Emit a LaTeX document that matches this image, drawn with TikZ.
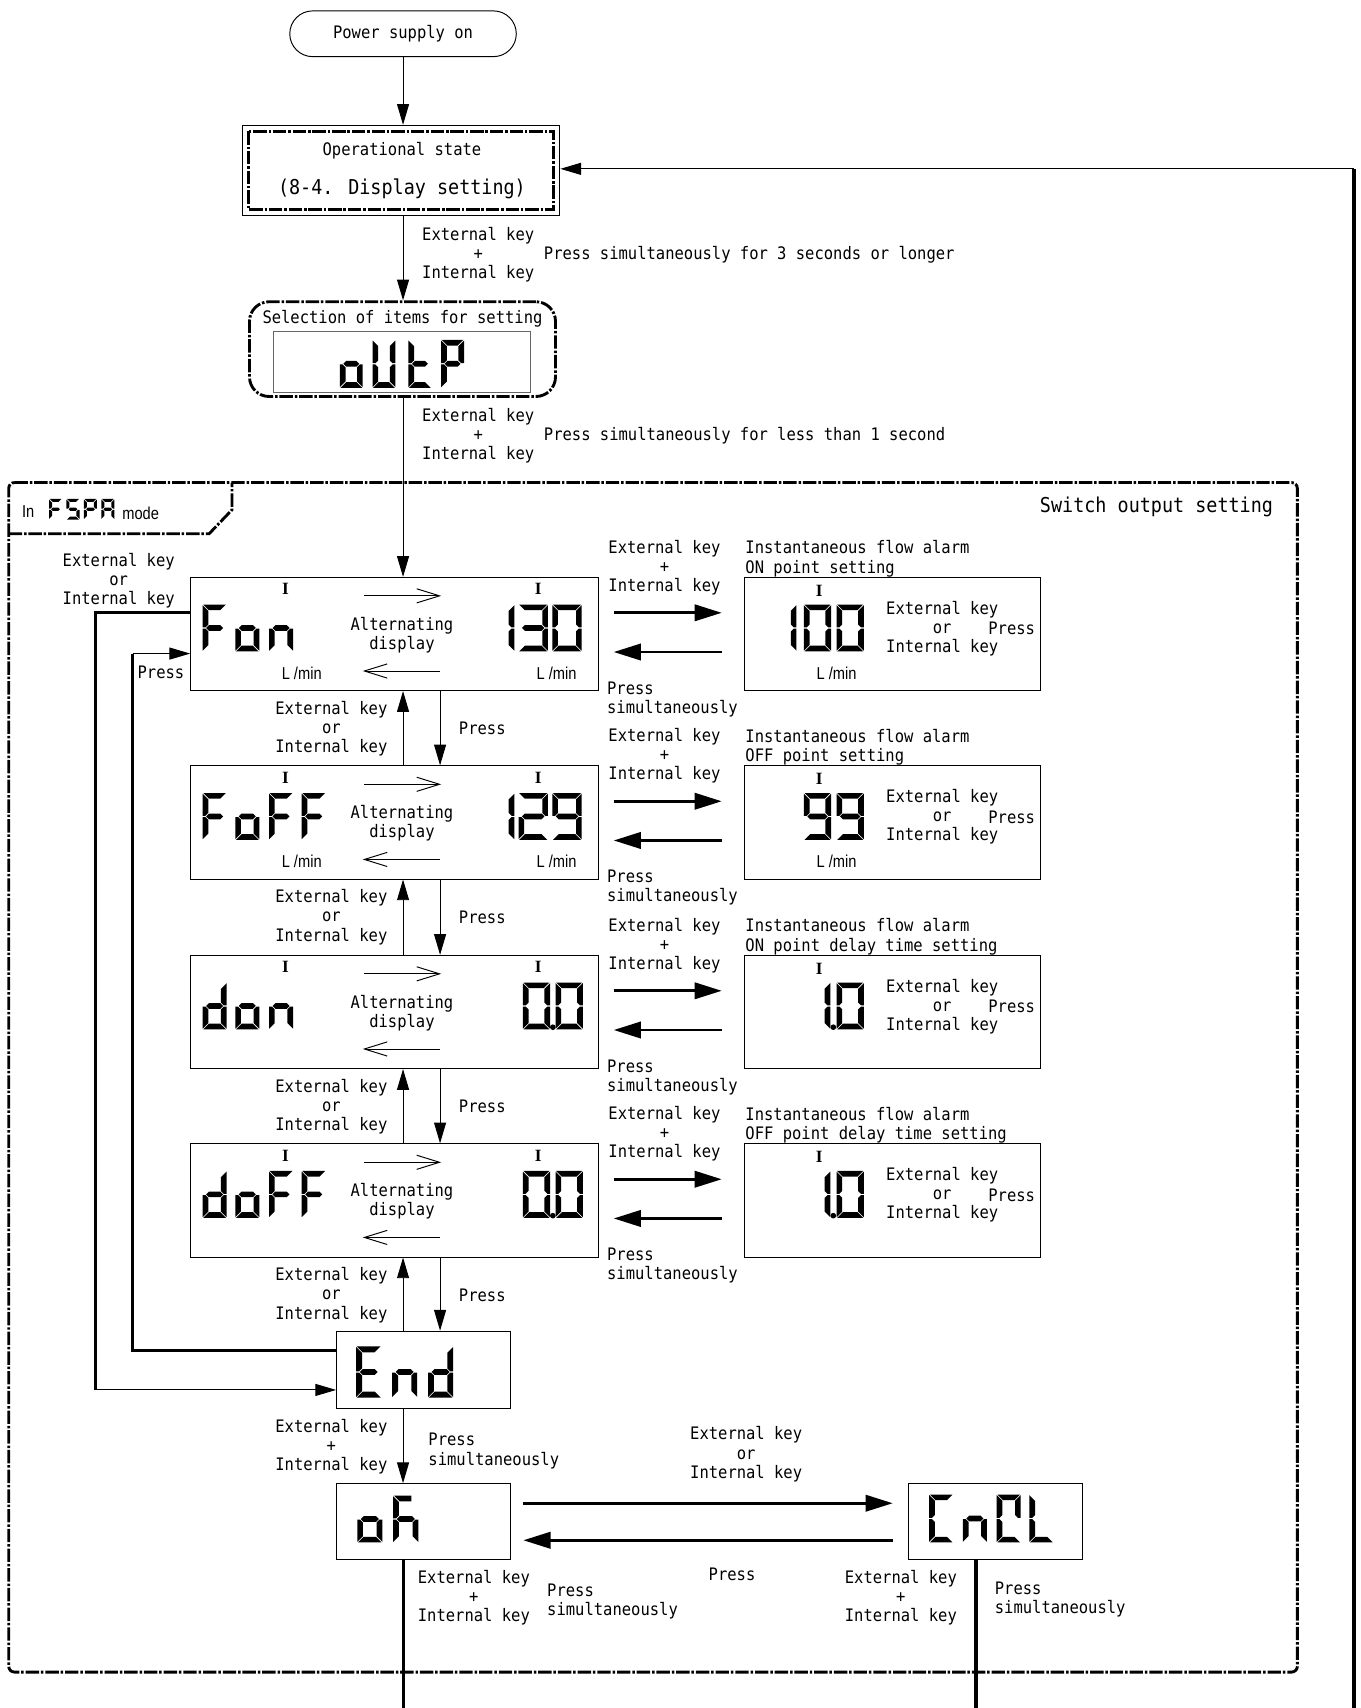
\documentclass[tikz,border=0pt]{standalone}
\usepackage{fontspec}
\setmainfont[FakeStretch=0.9]{DejaVu Sans Mono}
\newfontfamily\nsans[FakeStretch=0.85]{Liberation Sans}
\newfontfamily\tser{Liberation Serif}
\usetikzlibrary{arrows.meta,calc}

\def\sga{\fill (\sgX+\sgG,\sgY) -- (\sgX+\sgW-\sgG,\sgY) -- (\sgX+\sgW-\sgT-\sgG,\sgY+\sgT) -- (\sgX+\sgT+\sgG,\sgY+\sgT) -- cycle;}
\def\sgk{\fill (\sgX+\sgG,\sgY) -- (\sgX+\sgW*0.72,\sgY) -- (\sgX+\sgW*0.72,\sgY+\sgT) -- (\sgX+\sgT+\sgG,\sgY+\sgT) -- cycle;}
\def\sgd{\fill (\sgX+\sgG,\sgY+\sgH) -- (\sgX+\sgW-\sgG,\sgY+\sgH) -- (\sgX+\sgW-\sgT-\sgG,\sgY+\sgH-\sgT) -- (\sgX+\sgT+\sgG,\sgY+\sgH-\sgT) -- cycle;}
\def\sgg{\fill (\sgX+\sgT/2+\sgG,\sgY+\sgH/2) -- (\sgX+\sgT+\sgG,\sgY+\sgH/2-\sgT/2) -- (\sgX+\sgW-\sgT-\sgG,\sgY+\sgH/2-\sgT/2) -- (\sgX+\sgW-\sgT/2-\sgG,\sgY+\sgH/2) -- (\sgX+\sgW-\sgT-\sgG,\sgY+\sgH/2+\sgT/2) -- (\sgX+\sgT+\sgG,\sgY+\sgH/2+\sgT/2) -- cycle;}
\def\sgf{\fill (\sgX,\sgY+\sgG) -- (\sgX+\sgT,\sgY+\sgT+\sgG) -- (\sgX+\sgT,\sgY+\sgH/2-\sgT/2-\sgG) -- (\sgX+\sgT/2,\sgY+\sgH/2-\sgG) -- (\sgX,\sgY+\sgH/2-\sgG) -- cycle;}
\def\sge{\fill (\sgX,\sgY+\sgH-\sgG) -- (\sgX+\sgT,\sgY+\sgH-\sgT-\sgG) -- (\sgX+\sgT,\sgY+\sgH/2+\sgT/2+\sgG) -- (\sgX+\sgT/2,\sgY+\sgH/2+\sgG) -- (\sgX,\sgY+\sgH/2+\sgG) -- cycle;}
\def\sgb{\fill (\sgX+\sgW,\sgY+\sgG) -- (\sgX+\sgW-\sgT,\sgY+\sgT+\sgG) -- (\sgX+\sgW-\sgT,\sgY+\sgH/2-\sgT/2-\sgG) -- (\sgX+\sgW-\sgT/2,\sgY+\sgH/2-\sgG) -- (\sgX+\sgW,\sgY+\sgH/2-\sgG) -- cycle;}
\def\sgc{\fill (\sgX+\sgW,\sgY+\sgH-\sgG) -- (\sgX+\sgW-\sgT,\sgY+\sgH-\sgT-\sgG) -- (\sgX+\sgW-\sgT,\sgY+\sgH/2+\sgT/2+\sgG) -- (\sgX+\sgW-\sgT/2,\sgY+\sgH/2+\sgG) -- (\sgX+\sgW,\sgY+\sgH/2+\sgG) -- cycle;}
\newcommand\dig[6]{\begingroup\def\sgX{#1}\def\sgY{#2}\def\sgW{#3}\def\sgH{#4}\def\sgT{#5}\def\sgG{0.6}\foreach \s in #6{\csname sg\s\endcsname}\endgroup}
\def\svo{c,d,e,g}
\def\svU{b,c,d,e,f}
\def\svt{d,e,f,g}
\def\svP{a,b,e,f,g}
\def\svF{a,e,f,g}
\def\svS{a,c,d,f,g}
\def\svA{a,b,c,e,f,g}
\def\svn{c,e,g}
\def\svzero{a,b,c,d,e,f}
\def\svone{b,c}
\def\svthree{a,b,c,d,g}
\def\svtwo{a,b,d,e,g}
\def\svnine{a,b,c,d,f,g}
\def\svd{b,c,d,e,g}
\def\svE{a,d,e,f,g}
\def\svK{k,c,e,f,g}
\def\svC{a,d,e,f}
\def\svCC{a,b,d,e,f}
\def\svL{d,e,f}

\tikzset{
 lbl/.style={inner sep=0pt, align=center, font=\fontsize{9}{10}\selectfont},
 big/.style={inner sep=0pt, font=\fontsize{10.7}{12}\selectfont},
 unit/.style={inner sep=0pt, font=\nsans\fontsize{9}{9}\selectfont},
 mk/.style={inner sep=0pt, font=\tser\bfseries\fontsize{9}{9}\selectfont},
 box/.style={draw, line width=0.5pt, inner sep=0pt},
 arr/.style={line width=0.5pt, -{Triangle[length=0.38cm,width=0.22cm]}},
 tarr/.style={line width=1.5pt, -{Triangle[length=0.5cm,width=0.3cm]}},
 thk/.style={line width=1.6pt},
 oarr/.style={line width=0.5pt, -{Straight Barb[length=0.42cm,width=0.26cm]}},
 ddash/.style={line width=1.5pt, dash pattern=on 7pt off 1pt on 1.3pt off 1pt},
}

\newcommand\rowbox[3]{%
\node[box, minimum width=7.48cm, minimum height=2.08cm] (r#1) at (362,#2+52) {};
\node[box, minimum width=5.44cm, minimum height=2.08cm] (q#1) at (819,#2+52) {};
\node[mk] (ra#1) at (262,#2+11) {I};
\node[mk] (rb#1) at (494,#2+11) {I};
\node[mk] (qa#1) at (752,#2+12) {I};
\draw[oarr] (334,#2+17) -- (405,#2+17);
\draw[oarr] (404,#2+86) -- (333,#2+86);
\node[lbl] (al#1) at (369,#2+53) {Alternating\\display};
\node[lbl] (ka#1) at (610,#2-9) {External key\\+\\Internal key};
\node[lbl, align=left, anchor=west] (ti#1) at (684,#2-17) {Instantaneous flow alarm\\#3};
\node[lbl, align=left, anchor=west] (ps#1) at (557,#2+112) {Press\\simultaneously};
\node[lbl] (qe#1) at (865,#2+47) {External key\\or\\Internal key};
\node[lbl, anchor=west] (qp#1) at (907,#2+47) {Press};
\draw[tarr] ($(r#1.north east)+(14,33)$) -- ($(q#1.north west)+(-20,33)$);
\draw[tarr] ($(q#1.north west)+(-20,69)$) -- ($(r#1.north east)+(14,69)$);
}

\begin{document}
\begin{tikzpicture}[x=0.02cm,y=-0.02cm]
\useasboundingbox (0,0) rectangle (1249,1568);
\coordinate (sp) at (370,0);
\coordinate (dp) at (404,0);
\coordinate (cx) at (896,0);
\coordinate (bot) at (0,1568);

% top
\node[box, lbl, rounded corners=0.42cm, minimum width=4.16cm, minimum height=0.84cm] (pso) at (370,31) {Power supply on};
\node[box, minimum width=5.82cm, minimum height=1.66cm] (op) at (368.5,156.5) {};
\draw[ddash] (228.5,120.5) rectangle (508.5,192.5);
\node[lbl] (op1) at (369,138) {Operational state};
\node[big] (op2) at (369,173) {(8-4. Display setting)};
\draw[arr] (pso.south) -- (pso.south |- op.north);

\node[lbl] (k1) at (439,234) {External key\\+\\Internal key};
\node[lbl, anchor=west] (p1) at (499,234) {Press simultaneously for 3 seconds or longer};

\node[box, ddash, rounded corners=0.36cm, minimum width=5.62cm, minimum height=1.74cm] (sel) at (369.5,320.5) {};
\draw[arr] (op.south -| sp) -- (sel.north -| sp);
\node[lbl] (selt) at (369.5,293) {Selection of items for setting};
\node[box, draw=black!60, minimum width=4.72cm, minimum height=1.12cm] (seld) at (369,332) {};
\dig{312}{312}{21}{44}{5.2}{\svo}
\dig{342}{312}{21}{44}{5.2}{\svU}
\dig{375}{312}{21}{44}{5.2}{\svt}
\dig{405}{312}{21}{44}{5.2}{\svP}

\node[lbl] (k2) at (439,400) {External key\\+\\Internal key};
\node[lbl, anchor=west] (p2) at (499,400) {Press simultaneously for less than 1 second};

% frame
\draw[ddash, rounded corners=3pt] (8,443) -- (1191,443) -- (1191,1535) -- (8,1535) -- cycle;
\draw[ddash] (8,490) -- (192,490) -- (213,468) -- (213,443);
\node[unit, anchor=west] (in) at (20,470) {In};
\dig{45}{458}{12}{19}{2.8}{\svF}
\dig{61}{458}{12}{19}{2.8}{\svS}
\dig{77}{458}{12}{19}{2.8}{\svP}
\dig{93}{458}{12}{19}{2.8}{\svA}
\node[unit, anchor=west] (mode) at (112,471) {mode};
\node[big, anchor=east] (sos) at (1169,465) {Switch output setting};

% rows
\rowbox{1}{530}{ON point setting}
\rowbox{2}{703}{OFF point setting}
\rowbox{3}{877}{ON point delay time setting}
\rowbox{4}{1050}{OFF point delay time setting}
\node[unit] (u1a) at (277,618) {L /min};
\node[unit] (u1b) at (511,618) {L /min};
\node[unit] (u1c) at (768,618) {L /min};
\node[unit] (u2a) at (277,791) {L /min};
\node[unit] (u2b) at (511,791) {L /min};
\node[unit] (u2c) at (768,791) {L /min};

% row 1 digits
\dig{186}{555}{22}{43}{5.2}{\svF}
\dig{216}{555}{22}{43}{5.2}{\svo}
\dig{247}{555}{22}{43}{5.2}{\svn}
\dig{467}{555}{5.2}{43}{5.2}{\svone}
\dig{476}{555}{27}{43}{5.2}{\svthree}
\dig{507}{555}{27}{43}{5.2}{\svzero}
\dig{726}{555}{5.2}{43}{5.2}{\svone}
\dig{738}{555}{25}{43}{5.2}{\svzero}
\dig{768}{555}{25}{43}{5.2}{\svzero}
% row 2
\dig{186}{728}{22}{43}{5.2}{\svF}
\dig{216}{728}{22}{43}{5.2}{\svo}
\dig{247}{728}{22}{43}{5.2}{\svF}
\dig{277}{728}{22}{43}{5.2}{\svF}
\dig{467}{728}{5.2}{43}{5.2}{\svone}
\dig{476}{728}{27}{43}{5.2}{\svtwo}
\dig{507}{728}{27}{43}{5.2}{\svnine}
\dig{738}{728}{25}{43}{5.2}{\svnine}
\dig{768}{728}{25}{43}{5.2}{\svnine}
% row 3
\dig{186}{902}{22}{43}{5.2}{\svd}
\dig{216}{902}{22}{43}{5.2}{\svo}
\dig{247}{902}{22}{43}{5.2}{\svn}
\dig{480}{902}{25}{43}{5.2}{\svzero}
\fill (507.5,943) circle[radius=2.6];
\dig{510}{902}{25}{43}{5.2}{\svzero}
\dig{757}{902}{5.2}{43}{5.2}{\svone}
\fill (765,943) circle[radius=2.6];
\dig{768}{902}{25}{43}{5.2}{\svzero}
% row 4
\dig{186}{1075}{22}{43}{5.2}{\svd}
\dig{216}{1075}{22}{43}{5.2}{\svo}
\dig{247}{1075}{22}{43}{5.2}{\svF}
\dig{277}{1075}{22}{43}{5.2}{\svF}
\dig{480}{1075}{25}{43}{5.2}{\svzero}
\fill (507.5,1116) circle[radius=2.6];
\dig{510}{1075}{25}{43}{5.2}{\svzero}
\dig{757}{1075}{5.2}{43}{5.2}{\svone}
\fill (765,1116) circle[radius=2.6];
\dig{768}{1075}{25}{43}{5.2}{\svzero}

% End, oK, CnCL
\node[box, minimum width=3.2cm, minimum height=1.42cm] (en) at (389,1257.5) {};
\node[box, minimum width=3.2cm, minimum height=1.4cm] (ok) at (389,1397) {};
\node[box, minimum width=3.2cm, minimum height=1.4cm] (cn) at (914,1397) {};
\dig{327}{1236}{23}{47}{5.4}{\svE}
\dig{360}{1236}{23}{47}{5.4}{\svn}
\dig{393}{1236}{23}{47}{5.4}{\svd}
\dig{328}{1373}{23}{43}{5.2}{\svo}
\dig{361}{1373}{23}{43}{5.2}{\svK}
\dig{853}{1372}{22}{44}{5.2}{\svC}
\dig{884}{1372}{22}{44}{5.2}{\svn}
\dig{915}{1372}{22}{44}{5.2}{\svCC}
\dig{945}{1372}{22}{44}{5.2}{\svL}

% spine connectors
\draw[arr] (sel.south -| sp) -- (r1.north -| sp);
\draw[arr] (r2.north -| sp) -- (r1.south -| sp);
\draw[arr] (r1.south -| dp) -- (r2.north -| dp);
\draw[arr] (r3.north -| sp) -- (r2.south -| sp);
\draw[arr] (r2.south -| dp) -- (r3.north -| dp);
\draw[arr] (r4.north -| sp) -- (r3.south -| sp);
\draw[arr] (r3.south -| dp) -- (r4.north -| dp);
\draw[arr] (en.north -| sp) -- (r4.south -| sp);
\draw[arr] (r4.south -| dp) -- (en.north -| dp);
\node[lbl, anchor=east] (v1) at (356,669) {External key\\or\\Internal key};
\node[lbl, anchor=west] (w1) at (421,669) {Press};
\node[lbl, anchor=east] (v2) at (356,842) {External key\\or\\Internal key};
\node[lbl, anchor=west] (w2) at (421,842) {Press};
\node[lbl, anchor=east] (v3) at (356,1016) {External key\\or\\Internal key};
\node[lbl, anchor=west] (w3) at (421,1016) {Press};
\node[lbl, anchor=east] (v4) at (356,1189) {External key\\or\\Internal key};
\node[lbl, anchor=west] (w4) at (421,1189) {Press};

% left loops
\coordinate (L1) at (88,1276);
\coordinate (L2) at (122,600);
\draw[thk] ($(r1.north west)+(0,33)$) -| (L1);
\draw[arr] (L1) -- (L1 -| en.west);
\draw[thk] ($(en.west)+(0,-18)$) -| (L2);
\draw[arr] (L2) -- (L2 -| r1.west);
\node[lbl] (lk) at (109,533) {External key\\or\\Internal key};
\node[lbl, anchor=west] (lp) at (126,617) {Press};

% End -> oK
\draw[arr] (en.south -| sp) -- (ok.north -| sp);
\node[lbl, anchor=east] (ek) at (356,1328) {External key\\+\\Internal key};
\node[lbl, anchor=west, align=left] (ep) at (393,1332) {Press\\simultaneously};

% oK <-> CnCL
\draw[tarr] ($(ok.east)+(11,-17)$) -- ($(cn.west)+(-14,-17)$);
\draw[tarr] ($(cn.west)+(-14,17)$) -- ($(ok.east)+(11,17)$);
\node[lbl] (ck) at (685,1335) {External key\\or\\Internal key};
\node[lbl] (cp) at (672,1445) {Press};

% bottom returns
\draw[thk] (ok.south -| sp) -- (sp |- bot);
\draw[thk] (cn.south -| cx) -- (cx |- bot);
\node[lbl] (bk1) at (435,1467) {External key\\+\\Internal key};
\node[lbl, anchor=west, align=left] (bp1) at (502,1470) {Press\\simultaneously};
\node[lbl] (bk2) at (827,1467) {External key\\+\\Internal key};
\node[lbl, anchor=west, align=left] (bp2) at (913,1468) {Press\\simultaneously};

% right return
\coordinate (R) at (1243,155);
\draw[thk] (R) -- (R |- bot);
\draw[arr] (R) -- (R -| op.east);
\end{tikzpicture}
\end{document}
